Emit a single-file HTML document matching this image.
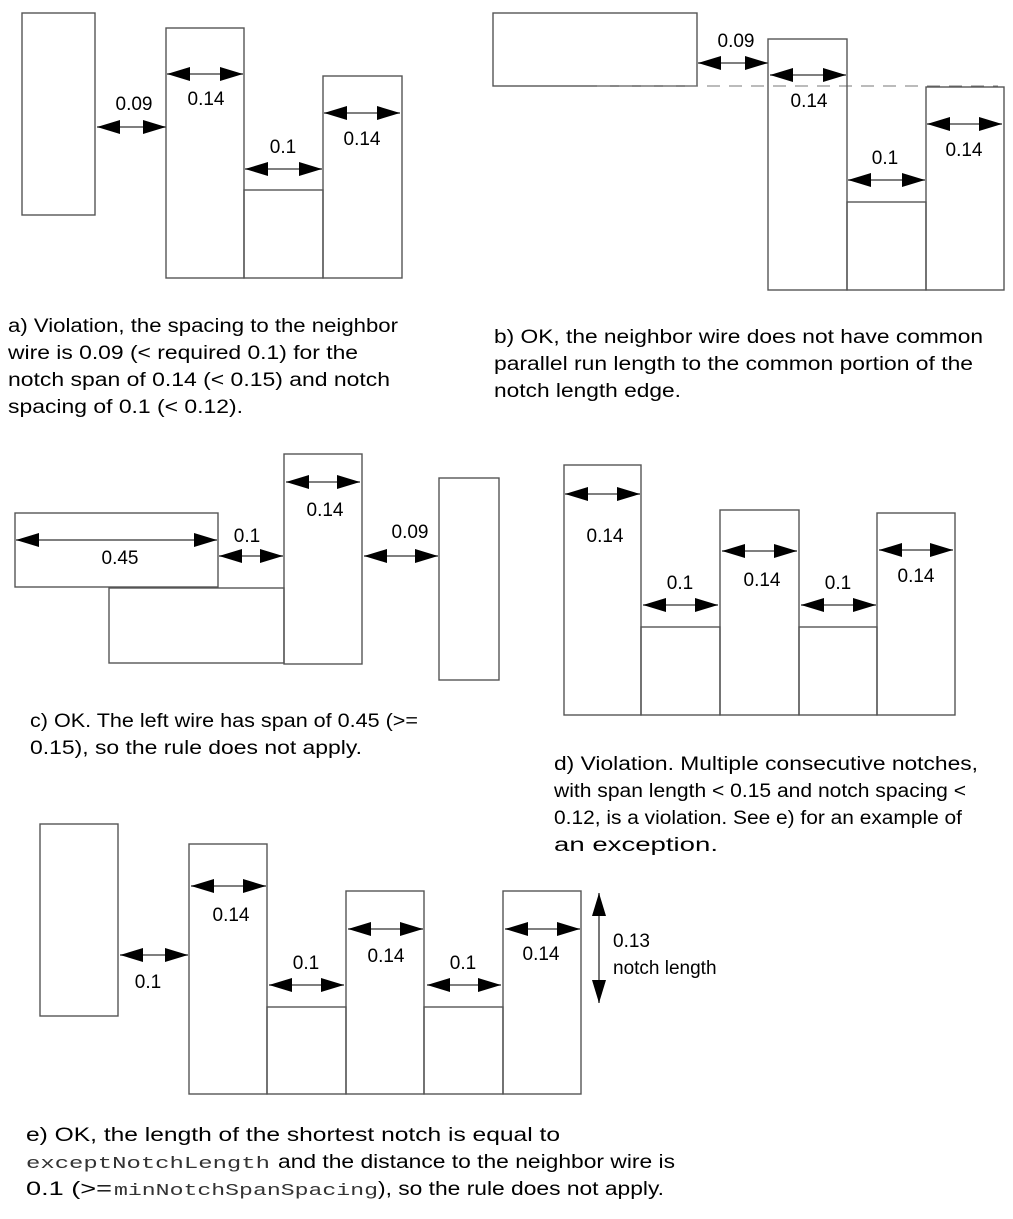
<!DOCTYPE html>
<html><head><meta charset="utf-8"><style>
html,body{margin:0;padding:0;background:#fff;}
svg{display:block;}
text{font-family:"Liberation Sans",sans-serif;font-size:19px;fill:#000;}
.c{font-size:19px;}
.m{font-family:"Liberation Mono",monospace;font-size:17px;fill:#333;}
rect{fill:none;stroke:#555;stroke-width:1.4;}
.a line{stroke:#555;stroke-width:1.6;marker-start:url(#ah);marker-end:url(#ah);}
</style></head><body>
<svg width="1013" height="1219" viewBox="0 0 1013 1219" xmlns="http://www.w3.org/2000/svg">
<defs>
<marker id="ah" markerUnits="userSpaceOnUse" markerWidth="23" markerHeight="14" refX="23" refY="7" orient="auto-start-reverse">
<path d="M0,0 L23,7 L0,14 Z" fill="#000"/>
</marker>
</defs>
<rect x="22" y="13" width="73" height="202"/>
<rect x="166" y="28" width="78" height="250"/>
<rect x="244" y="190" width="79" height="88"/>
<rect x="323" y="76" width="79" height="202"/>
<rect x="493" y="13" width="204" height="73"/>
<line x1="597" y1="86" x2="998" y2="86" stroke="#777" stroke-width="1" stroke-dasharray="13,9"/>
<rect x="768" y="39" width="79" height="251"/>
<rect x="847" y="202" width="79" height="88"/>
<rect x="926" y="87" width="78" height="203"/>
<rect x="15" y="513" width="203" height="74"/>
<rect x="109" y="588" width="175" height="75"/>
<rect x="284" y="454" width="78" height="210"/>
<rect x="439" y="478" width="60" height="202"/>
<rect x="564" y="465" width="77" height="250"/>
<rect x="641" y="627" width="79" height="88"/>
<rect x="720" y="510" width="79" height="205"/>
<rect x="799" y="627" width="78" height="88"/>
<rect x="877" y="513" width="78" height="202"/>
<rect x="40" y="824" width="78" height="192"/>
<rect x="189" y="844" width="78" height="250"/>
<rect x="267" y="1007" width="79" height="87"/>
<rect x="346" y="891" width="78" height="203"/>
<rect x="424" y="1007" width="79" height="87"/>
<rect x="503" y="891" width="78" height="203"/>

<g class="a">
<line x1="97" y1="127" x2="166" y2="127"/>
<line x1="167" y1="74" x2="243" y2="74"/>
<line x1="245" y1="169" x2="322" y2="169"/>
<line x1="324" y1="113" x2="400" y2="113"/>
<line x1="698" y1="63" x2="768" y2="63"/>
<line x1="770" y1="75" x2="846" y2="75"/>
<line x1="848" y1="180" x2="925" y2="180"/>
<line x1="927" y1="124" x2="1002" y2="124"/>
<line x1="16" y1="540" x2="217" y2="540"/>
<line x1="219" y1="556" x2="283" y2="556"/>
<line x1="286" y1="482" x2="360" y2="482"/>
<line x1="364" y1="556" x2="438" y2="556"/>
<line x1="565" y1="494" x2="640" y2="494"/>
<line x1="643" y1="605" x2="718" y2="605"/>
<line x1="722" y1="551" x2="797" y2="551"/>
<line x1="801" y1="605" x2="876" y2="605"/>
<line x1="879" y1="550" x2="953" y2="550"/>
<line x1="120" y1="955" x2="188" y2="955"/>
<line x1="191" y1="886" x2="266" y2="886"/>
<line x1="269" y1="985" x2="344" y2="985"/>
<line x1="348" y1="929" x2="423" y2="929"/>
<line x1="427" y1="985" x2="501" y2="985"/>
<line x1="505" y1="929" x2="580" y2="929"/>
<line x1="599" y1="893" x2="599" y2="1003"/>
</g>

<g text-anchor="middle">
<text x="134" y="110">0.09</text><text x="206" y="105">0.14</text><text x="283" y="153">0.1</text><text x="362" y="145">0.14</text>
<text x="736" y="47">0.09</text><text x="809" y="107">0.14</text><text x="885" y="164">0.1</text><text x="964" y="156">0.14</text>
<text x="120" y="564">0.45</text><text x="247" y="542">0.1</text><text x="325" y="516">0.14</text><text x="410" y="538">0.09</text>
<text x="605" y="542">0.14</text><text x="680" y="589">0.1</text><text x="762" y="586">0.14</text><text x="838" y="589">0.1</text><text x="916" y="582">0.14</text>
<text x="148" y="988">0.1</text><text x="231" y="921">0.14</text><text x="306" y="969">0.1</text><text x="386" y="962">0.14</text><text x="463" y="969">0.1</text><text x="541" y="960">0.14</text>
</g>
<text x="613" y="947">0.13</text><text x="613" y="974">notch length</text>

<text class="c" x="8" y="332" textLength="390" lengthAdjust="spacingAndGlyphs">a) Violation, the spacing to the neighbor</text>
<text class="c" x="8" y="359" textLength="350" lengthAdjust="spacingAndGlyphs">wire is 0.09 (&lt; required 0.1) for the</text>
<text class="c" x="8" y="386" textLength="382" lengthAdjust="spacingAndGlyphs">notch span of 0.14 (&lt; 0.15) and notch</text>
<text class="c" x="8" y="413" textLength="235" lengthAdjust="spacingAndGlyphs">spacing of 0.1 (&lt; 0.12).</text>

<text class="c" x="494" y="343" textLength="489" lengthAdjust="spacingAndGlyphs">b) OK, the neighbor wire does not have common</text>
<text class="c" x="494" y="370" textLength="479" lengthAdjust="spacingAndGlyphs">parallel run length to the common portion of the</text>
<text class="c" x="494" y="397" textLength="187" lengthAdjust="spacingAndGlyphs">notch length edge.</text>

<text class="c" x="30" y="727" textLength="388" lengthAdjust="spacingAndGlyphs">c) OK. The left wire has span of 0.45 (&gt;=</text>
<text class="c" x="30" y="754" textLength="332" lengthAdjust="spacingAndGlyphs">0.15), so the rule does not apply.</text>

<text class="c" x="554" y="770" textLength="424" lengthAdjust="spacingAndGlyphs">d) Violation. Multiple consecutive notches,</text>
<text class="c" x="554" y="797" textLength="412" lengthAdjust="spacingAndGlyphs">with span length &lt; 0.15 and notch spacing &lt;</text>
<text class="c" x="554" y="824" textLength="408" lengthAdjust="spacingAndGlyphs">0.12, is a violation. See e) for an example of</text>
<text class="c" x="554" y="851" textLength="164" lengthAdjust="spacingAndGlyphs">an exception.</text>

<text class="c" x="26" y="1141" textLength="534" lengthAdjust="spacingAndGlyphs">e) OK, the length of the shortest notch is equal to</text>
<text class="m" x="26" y="1168" textLength="244" lengthAdjust="spacingAndGlyphs">exceptNotchLength</text>
<text class="c" x="278" y="1168" textLength="397" lengthAdjust="spacingAndGlyphs">and the distance to the neighbor wire is</text>
<text class="c" x="26" y="1195" textLength="86" lengthAdjust="spacingAndGlyphs">0.1 (&gt;=</text>
<text class="m" x="114" y="1195" textLength="264" lengthAdjust="spacingAndGlyphs">minNotchSpanSpacing</text>
<text class="c" x="378" y="1195" textLength="286" lengthAdjust="spacingAndGlyphs">), so the rule does not apply.</text>
</svg>
</body></html>
